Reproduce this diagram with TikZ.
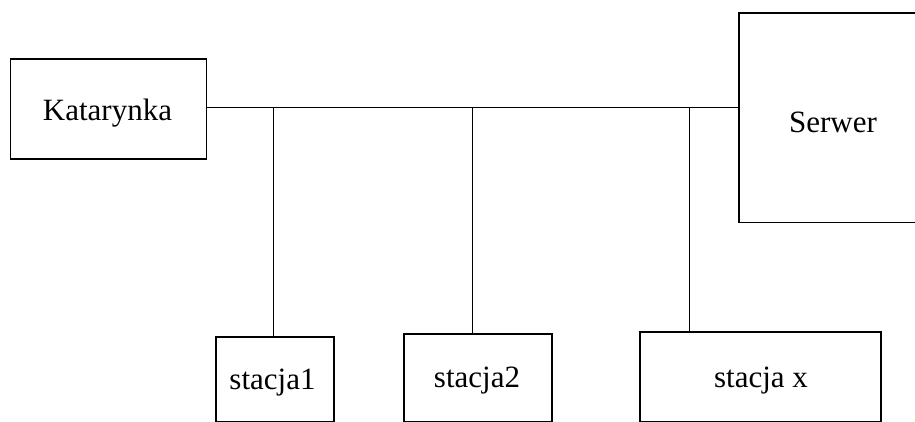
\documentclass[tikz,border=0pt]{standalone}
\usepackage{fontspec}
\setmainfont{Liberation Serif}
\begin{document}
\begin{tikzpicture}[x=1pt,y=-1pt,
  boxstyle/.style={draw=black, line width=1.8pt, rectangle, inner sep=0pt, anchor=north west},
  lbl/.style={font=\fontsize{31}{37}\selectfont, inner sep=0pt},
  wire/.style={draw=black, line width=1pt}]
\useasboundingbox (0,0) rectangle (915,422);
\begin{scope}
\clip (0,0) rectangle (915,422);
\node[boxstyle, minimum width=196pt, minimum height=100pt] (kat) at (9.5,58) {};
\node[lbl] (katl) at (107.5,113) {Katarynka};
\node[boxstyle, minimum width=190pt, minimum height=209pt] (ser) at (738,12.5) {};
\node[lbl] (serl) at (833,122) {Serwer};
\node[boxstyle, minimum width=118pt, minimum height=85pt] (s1) at (215,336) {};
\node[lbl] (s1l) at (272.5,383) {stacja1};
\node[boxstyle, minimum width=148pt, minimum height=88pt] (s2) at (403,333) {};
\node[lbl] (s2l) at (477,381) {stacja2};
\node[boxstyle, minimum width=241pt, minimum height=90pt] (sx) at (639,331) {};
\node[lbl] (sxl) at (761,381) {stacja x};
\end{scope}
\coordinate (j1) at (273,108);
\coordinate (j2) at (472,108);
\coordinate (j3) at (689,108);
\draw[wire] (kat.east |- 0,108) -- (ser.west |- 0,108);
\draw[wire] (j1) -- (j1 |- s1.north);
\draw[wire] (j2) -- (j2 |- s2.north);
\draw[wire] (j3) -- (j3 |- sx.north);
\end{tikzpicture}
\end{document}
